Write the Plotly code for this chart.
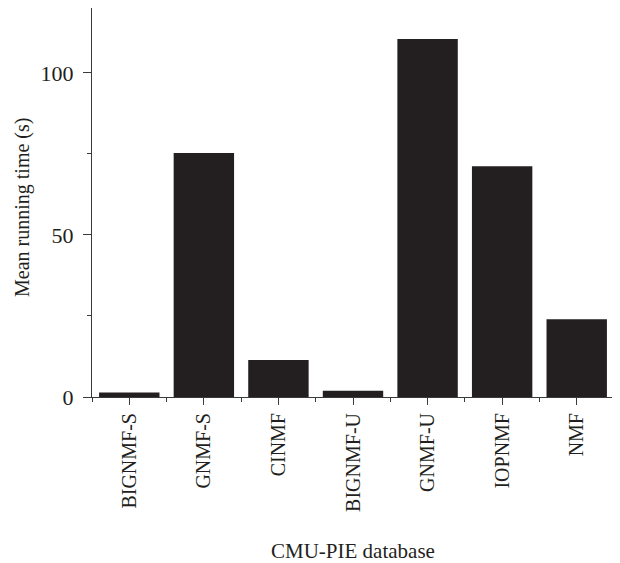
import plotly.graph_objects as go

categories = ["BIGNMF-S", "GNMF-S", "CINMF", "BIGNMF-U", "GNMF-U", "IOPNMF", "NMF"]
running_time = [1.4, 75.3, 11.4, 1.9, 110.4, 71.2, 24.0]
y_tick_vals = [0, 50, 100]

positions = list(range(len(categories)))
font_family = "Liberation Serif, Times New Roman, serif"
axis_color = "#3a3a3a"
text_color = "#231f20"

fig = go.Figure()
fig.add_trace(go.Bar(
    x=positions, y=running_time, width=0.81,
    marker=dict(color="#231f20", line=dict(width=0)),
))

# page body has an 8px margin, so the figure is sized/offset to compensate
fig.update_layout(
    width=612, height=555,
    margin=dict(l=84, r=6, t=0, b=166, autoexpand=False),
    paper_bgcolor="white", plot_bgcolor="white",
    showlegend=False,
    font=dict(family=font_family, color=text_color, size=20),
    xaxis=dict(
        range=[-0.5, 6.5], tickmode="array", tickvals=positions, ticktext=categories,
        tickangle=-90, ticks="outside", ticklen=7, tickwidth=1, tickcolor=axis_color,
        showline=True, linecolor=axis_color, linewidth=1, showgrid=False, zeroline=False,
        minor=dict(tickmode="linear", tick0=-0.5, dtick=1, ticks="outside", ticklen=4,
                   tickcolor=axis_color, showgrid=False),
        tickfont=dict(size=20), automargin=False,
    ),
    yaxis=dict(
        range=[0, 120], tickmode="array", tickvals=y_tick_vals,
        ticks="outside", ticklen=8, tickwidth=1, tickcolor=axis_color,
        showline=True, linecolor=axis_color, linewidth=1, showgrid=False, zeroline=False,
        minor=dict(tickmode="linear", tick0=25, dtick=50, ticks="outside", ticklen=4,
                   tickcolor=axis_color, showgrid=False),
        tickfont=dict(size=22), ticklabelstandoff=5, automargin=False,
    ),
    annotations=[
        dict(text="CMU-PIE database", xref="paper", yref="paper", x=0.5, y=0,
             xanchor="center", yanchor="middle", yshift=-154, showarrow=False,
             font=dict(size=21)),
        dict(text="Mean running time (s)", xref="paper", yref="paper", x=0, y=0.486,
             xanchor="center", yanchor="middle", xshift=-69, textangle=-90,
             showarrow=False, font=dict(size=20)),
    ],
)

fig.write_html("out.html")
